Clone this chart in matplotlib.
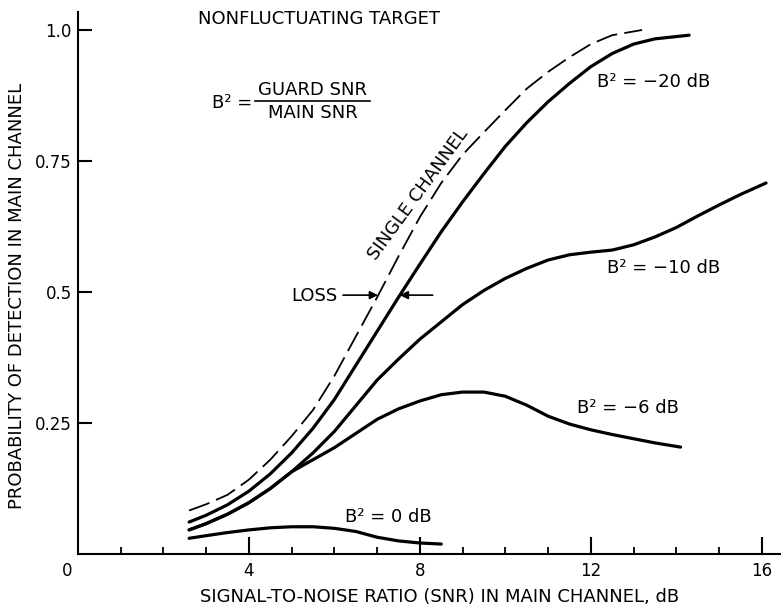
import matplotlib
matplotlib.use("Agg")
import matplotlib.pyplot as plt
from matplotlib.lines import Line2D
from matplotlib.transforms import ScaledTranslation

plt.rcParams['font.family'] = ['DejaVu Sans']

# ---- data ----
x_single = [2.6, 3.0, 3.5, 4.0, 4.5, 5.0, 5.5, 6.0, 6.5, 7.0, 7.5, 8.0, 8.5, 9.0,
            9.5, 10.0, 10.5, 11.0, 11.5, 12.0, 12.5, 13.2]
y_single = [0.083, 0.095, 0.113, 0.142, 0.18, 0.225, 0.275, 0.34, 0.415, 0.49, 0.568,
            0.643, 0.708, 0.762, 0.805, 0.847, 0.888, 0.92, 0.948, 0.973, 0.99, 1.0]

x_m20 = [2.6, 3.0, 3.5, 4.0, 4.5, 5.0, 5.5, 6.0, 6.5, 7.0, 7.5, 8.0, 8.5, 9.0,
         9.5, 10.0, 10.5, 11.0, 11.5, 12.0, 12.5, 13.0, 13.5, 14.3]
y_m20 = [0.061, 0.074, 0.094, 0.12, 0.153, 0.193, 0.24, 0.295, 0.36, 0.425, 0.49,
         0.553, 0.615, 0.672, 0.726, 0.778, 0.823, 0.863, 0.898, 0.93, 0.955, 0.973,
         0.983, 0.99]

x_m10 = [2.6, 3.0, 3.5, 4.0, 4.5, 5.0, 5.5, 6.0, 6.5, 7.0, 7.5, 8.0, 8.5, 9.0,
         9.5, 10.0, 10.5, 11.0, 11.5, 12.0, 12.5, 13.0, 13.5, 14.0, 14.5, 15.0,
         15.5, 16.1]
y_m10 = [0.046, 0.058, 0.076, 0.098, 0.125, 0.157, 0.193, 0.234, 0.283, 0.332,
         0.372, 0.41, 0.443, 0.476, 0.503, 0.526, 0.545, 0.561, 0.571, 0.576, 0.58,
         0.59, 0.605, 0.623, 0.645, 0.666, 0.686, 0.708]

x_m6 = [2.6, 3.0, 3.5, 4.0, 4.5, 5.0, 5.5, 6.0, 6.5, 7.0, 7.5, 8.0, 8.5, 9.0,
        9.5, 10.0, 10.5, 11.0, 11.5, 12.0, 12.5, 13.0, 13.5, 14.1]
y_m6 = [0.046, 0.058, 0.076, 0.098, 0.125, 0.157, 0.18, 0.203, 0.23, 0.257, 0.277,
        0.292, 0.304, 0.309, 0.309, 0.301, 0.284, 0.263, 0.248, 0.237, 0.228, 0.22,
        0.212, 0.204]

x_0 = [2.6, 3.0, 3.5, 4.0, 4.5, 5.0, 5.5, 6.0, 6.5, 7.0, 7.5, 8.0, 8.5]
y_0 = [0.03, 0.035, 0.041, 0.046, 0.05, 0.052, 0.052, 0.049, 0.043, 0.032, 0.025,
       0.021, 0.019]

x_ticks = [0, 4, 8, 12, 16]
x_ticklabels = ["0", "4", "8", "12", "16"]
x_minor = [1, 2, 3, 5, 6, 7, 9, 10, 11, 13, 14, 15]
y_ticks = [0.25, 0.5, 0.75, 1.0]
y_ticklabels = ["0.25", "0.5", "0.75", "1.0"]

# ---- figure ----
fig = plt.figure(figsize=(7.81, 6.07), dpi=100)
ax = fig.add_axes([0.0999, 0.0873, 0.9001, 0.8927])
ax.set_xlim(0, 16.45)
ax.set_ylim(0, 1.034)

lw = 2.3
ax.plot(x_single, y_single, color='black', lw=1.3, linestyle=(0, (12, 4)))
for xs, ys in [(x_m20, y_m20), (x_m10, y_m10), (x_m6, y_m6), (x_0, y_0)]:
    ax.plot(xs, ys, color='black', lw=lw, solid_capstyle='round',
            solid_joinstyle='round')

for s in ['top', 'right']:
    ax.spines[s].set_visible(False)
for s in ['left', 'bottom']:
    ax.spines[s].set_linewidth(1.5)

ax.set_xticks(x_ticks)
ax.set_xticklabels(x_ticklabels)
ax.set_xticks(x_minor, minor=True)
ax.set_yticks(y_ticks)
ax.set_yticklabels(y_ticklabels)
ax.tick_params(axis='y', which='major', direction='in', length=10, width=1.5,
               labelsize=12, pad=4.5)
ax.tick_params(axis='x', which='major', direction='in', length=12, width=1.5,
               labelsize=12, pad=6)
ax.tick_params(axis='x', which='minor', direction='in', length=5, width=1.3)
t0 = ax.xaxis.get_major_ticks()[0]
t0.tick1line.set_visible(False)
lab0 = t0.label1
lab0.set_transform(lab0.get_transform() + ScaledTranslation(-11 / 100, 0, fig.dpi_scale_trans))

fs = 13
fig.text(0.022, 0.512, "PROBABILITY OF DETECTION IN MAIN CHANNEL", rotation=90,
         ha='center', va='center', fontsize=fs)
fig.text(0.563, 0.016, "SIGNAL-TO-NOISE RATIO (SNR) IN MAIN CHANNEL, dB",
         ha='center', va='center', fontsize=fs)

ax.text(2.81, 1.021, "NONFLUCTUATING TARGET", ha='left', va='center', fontsize=fs)

# B^2 definition
ax.text(3.13, 0.861, "B² =", ha='left', va='center', fontsize=fs)
ax.text(5.49, 0.886, "GUARD SNR", ha='center', va='center', fontsize=fs)
ax.text(5.49, 0.841, "MAIN SNR", ha='center', va='center', fontsize=fs)
ax.add_line(Line2D([4.14, 6.83], [0.865, 0.865], color='black', lw=1.2))

ax.text(7.97, 0.686, "SINGLE CHANNEL", rotation=54, ha='center', va='center',
        fontsize=fs)

ax.text(5.0, 0.492, "LOSS", ha='left', va='center', fontsize=fs)
ax.annotate("", xy=(7.02, 0.494), xytext=(6.2, 0.494),
            arrowprops=dict(arrowstyle='-|>', color='black', lw=1.2,
                            mutation_scale=12, shrinkA=0, shrinkB=0))
ax.annotate("", xy=(7.53, 0.494), xytext=(8.3, 0.494),
            arrowprops=dict(arrowstyle='-|>', color='black', lw=1.2,
                            mutation_scale=12, shrinkA=0, shrinkB=0))

ax.text(12.14, 0.90, "B² = \u221220 dB", ha='left', va='center', fontsize=fs)
ax.text(12.37, 0.546, "B² = \u221210 dB", ha='left', va='center', fontsize=fs)
ax.text(11.67, 0.279, "B² = \u22126 dB", ha='left', va='center', fontsize=fs)
ax.text(6.25, 0.071, "B² = 0 dB", ha='left', va='center', fontsize=fs)

fig.savefig("out.png", dpi=100)
